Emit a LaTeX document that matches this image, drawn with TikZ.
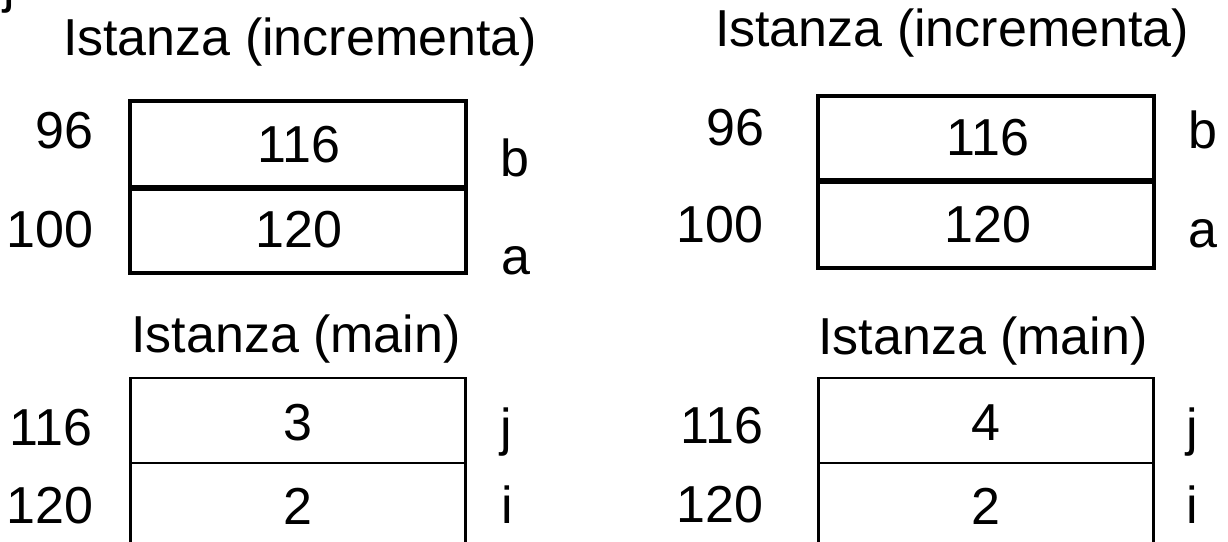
\documentclass[tikz,border=0pt]{standalone}
\usepackage{fontspec}
\setmainfont{Liberation Sans}
\begin{document}
\begin{tikzpicture}[x=1pt,y=-1pt,
  txt/.style={font=\fontsize{52}{60}\selectfont, inner sep=0pt, outer sep=0pt},
  cellthick/.style={draw, line width=4pt, inner sep=0pt, outer sep=0pt, minimum width=336pt},
  cellthin/.style={draw, line width=2.5pt, inner sep=0pt, outer sep=0pt, minimum width=335pt},
  val/.style={txt, anchor=base},
  addr/.style={txt, anchor=base east},
  var/.style={txt, anchor=base west}]
\path[use as bounding box] (0,0) rectangle (1228,541);
\clip (0,0) rectangle (1228,541);

% fragment at top-left
\node[var] (frag) at (3,2) {j};

% ---- left: incrementa ----
\node[txt, anchor=base] (tl1) at (300,55) {Istanza (incrementa)};
\node[cellthick, minimum height=85.5pt] (lb) at (298,143.75) {};
\node[cellthick, minimum height=84.5pt] (la) at (298,230.75) {};
\node[val] (lbv) at (299,162) {116};
\node[val] (lav) at (299,247) {120};
\node[addr] (lbaddr) at (93,148) {96};
\node[addr] (laaddr) at (93,247) {100};
\node[var] (lbn) at (500,176) {b};
\node[var] (lan) at (501,274) {a};

% ---- left: main ----
\node[txt, anchor=base] (tl2) at (296,352) {Istanza (main)};
\node[cellthin, minimum height=85pt] (lj) at (298,420.5) {};
\node[cellthin, minimum height=85pt] (li) at (298,505.5) {};
\node[val] (ljv) at (298,440) {3};
\node[val] (liv) at (298,524) {2};
\node[addr] (ljaddr) at (92,445) {116};
\node[addr] (liaddr) at (93,523) {120};
\node[var] (ljn) at (500,445) {j};
\node[var] (lin) at (501,523) {i};

% ---- right: incrementa ----
\node[txt, anchor=base] (tr1) at (952,46) {Istanza (incrementa)};
\node[cellthick, minimum height=84.5pt] (rb) at (986,137.75) {};
\node[cellthick, minimum height=86pt] (ra) at (986,225) {};
\node[val] (rbv) at (988,155) {116};
\node[val] (rav) at (988,242) {120};
\node[addr] (rbaddr) at (764,145) {96};
\node[addr] (raaddr) at (763,242) {100};
\node[var] (rbn) at (1188.5,148) {b};
\node[var] (ran) at (1188,247) {a};

% ---- right: main ----
\node[txt, anchor=base] (tr2) at (983,354) {Istanza (main)};
\node[cellthin, minimum height=85pt] (rj) at (986,420.5) {};
\node[cellthin, minimum height=85pt] (ri) at (986,505.5) {};
\node[val] (rjv) at (986,440) {4};
\node[val] (riv) at (986,524) {2};
\node[addr] (rjaddr) at (763,443) {116};
\node[addr] (riaddr) at (763,522) {120};
\node[var] (rjn) at (1186,445) {j};
\node[var] (rin) at (1186,523) {i};
\end{tikzpicture}
\end{document}
